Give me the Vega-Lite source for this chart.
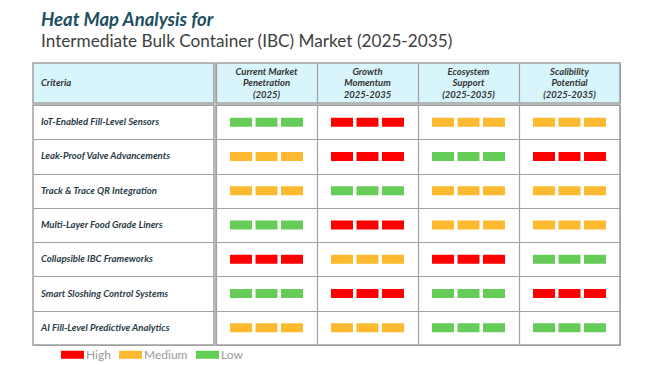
{
  "$schema": "https://vega.github.io/schema/vega-lite/v6.json",
  "background": "#ffffff",
  "padding": {"left": 32, "top": 10, "right": 0, "bottom": 0},
  "title": {
    "text": "Heat Map Analysis for",
    "subtitle": "Intermediate Bulk Container (IBC) Market (2025-2035)",
    "anchor": "start",
    "frame": "group",
    "dx": 8,
    "offset": 12,
    "font": "Lato",
    "fontSize": 18.5,
    "fontStyle": "italic",
    "fontWeight": "bold",
    "color": "#1d4f60",
    "subtitleFont": "Lato",
    "subtitleFontSize": 17.2,
    "subtitleColor": "#404040",
    "subtitlePadding": 4
  },
  "datasets": {
    "cells": [
      {"criteria": "IoT-Enabled Fill-Level Sensors", "metric": "Current Market Penetration (2025)", "level": "Low"},
      {"criteria": "IoT-Enabled Fill-Level Sensors", "metric": "Growth Momentum 2025-2035", "level": "High"},
      {"criteria": "IoT-Enabled Fill-Level Sensors", "metric": "Ecosystem Support (2025-2035)", "level": "Medium"},
      {"criteria": "IoT-Enabled Fill-Level Sensors", "metric": "Scalibility Potential (2025-2035)", "level": "Medium"},
      {"criteria": "Leak-Proof Valve Advancements", "metric": "Current Market Penetration (2025)", "level": "Medium"},
      {"criteria": "Leak-Proof Valve Advancements", "metric": "Growth Momentum 2025-2035", "level": "High"},
      {"criteria": "Leak-Proof Valve Advancements", "metric": "Ecosystem Support (2025-2035)", "level": "Low"},
      {"criteria": "Leak-Proof Valve Advancements", "metric": "Scalibility Potential (2025-2035)", "level": "High"},
      {"criteria": "Track & Trace QR Integration", "metric": "Current Market Penetration (2025)", "level": "Medium"},
      {"criteria": "Track & Trace QR Integration", "metric": "Growth Momentum 2025-2035", "level": "Low"},
      {"criteria": "Track & Trace QR Integration", "metric": "Ecosystem Support (2025-2035)", "level": "Medium"},
      {"criteria": "Track & Trace QR Integration", "metric": "Scalibility Potential (2025-2035)", "level": "Medium"},
      {"criteria": "Multi-Layer Food Grade Liners", "metric": "Current Market Penetration (2025)", "level": "Low"},
      {"criteria": "Multi-Layer Food Grade Liners", "metric": "Growth Momentum 2025-2035", "level": "High"},
      {"criteria": "Multi-Layer Food Grade Liners", "metric": "Ecosystem Support (2025-2035)", "level": "Medium"},
      {"criteria": "Multi-Layer Food Grade Liners", "metric": "Scalibility Potential (2025-2035)", "level": "Medium"},
      {"criteria": "Collapsible IBC Frameworks", "metric": "Current Market Penetration (2025)", "level": "High"},
      {"criteria": "Collapsible IBC Frameworks", "metric": "Growth Momentum 2025-2035", "level": "Medium"},
      {"criteria": "Collapsible IBC Frameworks", "metric": "Ecosystem Support (2025-2035)", "level": "High"},
      {"criteria": "Collapsible IBC Frameworks", "metric": "Scalibility Potential (2025-2035)", "level": "Low"},
      {"criteria": "Smart Sloshing Control Systems", "metric": "Current Market Penetration (2025)", "level": "Low"},
      {"criteria": "Smart Sloshing Control Systems", "metric": "Growth Momentum 2025-2035", "level": "High"},
      {"criteria": "Smart Sloshing Control Systems", "metric": "Ecosystem Support (2025-2035)", "level": "Low"},
      {"criteria": "Smart Sloshing Control Systems", "metric": "Scalibility Potential (2025-2035)", "level": "High"},
      {"criteria": "AI Fill-Level Predictive Analytics", "metric": "Current Market Penetration (2025)", "level": "Medium"},
      {"criteria": "AI Fill-Level Predictive Analytics", "metric": "Growth Momentum 2025-2035", "level": "Medium"},
      {"criteria": "AI Fill-Level Predictive Analytics", "metric": "Ecosystem Support (2025-2035)", "level": "Low"},
      {"criteria": "AI Fill-Level Predictive Analytics", "metric": "Scalibility Potential (2025-2035)", "level": "Low"}
    ],
    "headers": [
      {"metric": "Current Market Penetration (2025)", "label": "Current Market|Penetration|(2025)"},
      {"metric": "Growth Momentum 2025-2035", "label": "Growth|Momentum|2025-2035"},
      {"metric": "Ecosystem Support (2025-2035)", "label": "Ecosystem|Support|(2025-2035)"},
      {"metric": "Scalibility Potential (2025-2035)", "label": "Scalibility|Potential|(2025-2035)"}
    ],
    "rows": [
      {"criteria": "IoT-Enabled Fill-Level Sensors"},
      {"criteria": "Leak-Proof Valve Advancements"},
      {"criteria": "Track & Trace QR Integration"},
      {"criteria": "Multi-Layer Food Grade Liners"},
      {"criteria": "Collapsible IBC Frameworks"},
      {"criteria": "Smart Sloshing Control Systems"},
      {"criteria": "AI Fill-Level Predictive Analytics"}
    ],
    "corner": [{"h": "Criteria"}]
  },
  "vconcat": [
    {
      "hconcat": [
        {
          "width": 181,
          "height": 40,
          "data": {"name": "corner"},
          "view": {"fill": "#d9f5fc", "stroke": "#a0a0a0", "strokeWidth": 1.5},
          "mark": {"type": "text", "align": "left", "baseline": "middle", "dx": -82.5, "font": "Lato", "fontSize": 9.5, "fontStyle": "italic", "fontWeight": "bold", "color": "#333333"},
          "encoding": {"text": {"field": "h", "type": "nominal"}}
        },
        {
          "width": 404,
          "height": 40,
          "data": {"name": "headers"},
          "view": {"fill": "#d9f5fc", "stroke": "#a0a0a0", "strokeWidth": 1.5},
          "mark": {"type": "text", "align": "center", "baseline": "middle", "dy": -11.5, "lineBreak": "|", "lineHeight": 11.5, "font": "Lato", "fontSize": 9.5, "fontStyle": "italic", "fontWeight": "bold", "color": "#333333"},
          "encoding": {
            "x": {
              "field": "metric", "type": "nominal", "sort": null,
              "scale": {"type": "band", "paddingInner": 0, "paddingOuter": 0},
              "axis": {"title": null, "labels": false, "ticks": false, "domain": false, "grid": true, "tickBand": "extent", "gridColor": "#a0a0a0", "gridWidth": 1.2, "minExtent": 0, "maxExtent": 0}
            },
            "text": {"field": "label", "type": "nominal"}
          }
        }
      ],
      "spacing": 0
    },
    {
      "hconcat": [
        {
          "width": 181,
          "height": 240,
          "data": {"name": "rows"},
          "view": {"stroke": "#a0a0a0", "strokeWidth": 1.5},
          "mark": {"type": "text", "align": "left", "baseline": "middle", "dx": -82.5, "font": "Lato", "fontSize": 9.6, "fontStyle": "italic", "fontWeight": "bold", "color": "#2b3b46"},
          "encoding": {
            "y": {
              "field": "criteria", "type": "nominal", "sort": null,
              "scale": {"type": "band", "paddingInner": 0, "paddingOuter": 0},
              "axis": {"title": null, "labels": false, "ticks": false, "domain": false, "grid": true, "tickBand": "extent", "gridColor": "#a0a0a0", "gridWidth": 1.2, "minExtent": 0, "maxExtent": 0}
            },
            "text": {"field": "criteria", "type": "nominal"}
          }
        },
        {
          "width": 404,
          "height": 240,
          "data": {"name": "cells"},
          "view": {"stroke": "#a0a0a0", "strokeWidth": 1.5},
          "mark": {
            "type": "point",
            "shape": "M-1,-0.123H-0.397V0.123H-1Z M-0.301,-0.123H0.301V0.123H-0.301Z M0.397,-0.123H1V0.123H0.397Z",
            "size": 5329,
            "filled": true,
            "opacity": 1,
            "strokeWidth": 0
          },
          "encoding": {
            "x": {
              "field": "metric", "type": "nominal", "sort": null,
              "scale": {"type": "band", "paddingInner": 0, "paddingOuter": 0},
              "axis": {"title": null, "labels": false, "ticks": false, "domain": false, "grid": true, "tickBand": "extent", "gridColor": "#a0a0a0", "gridWidth": 1.2, "minExtent": 0, "maxExtent": 0}
            },
            "y": {
              "field": "criteria", "type": "nominal", "sort": null,
              "scale": {"type": "band", "paddingInner": 0, "paddingOuter": 0},
              "axis": {"title": null, "labels": false, "ticks": false, "domain": false, "grid": true, "tickBand": "extent", "gridColor": "#a0a0a0", "gridWidth": 1.2, "minExtent": 0, "maxExtent": 0}
            },
            "color": {
              "field": "level", "type": "nominal",
              "scale": {"domain": ["High", "Medium", "Low"], "range": ["#ff0000", "#fdb92f", "#66cc58"]},
              "legend": {
                "title": null,
                "orient": "none",
                "legendX": 28,
                "legendY": 280,
                "direction": "horizontal",
                "symbolType": "M-1,-0.35H1V0.35H-1Z",
                "symbolSize": 529,
                "symbolStrokeWidth": 0,
                "symbolOpacity": 1,
                "labelFont": "Lato",
                "labelFontSize": 12,
                "labelColor": "#999999",
                "labelOffset": 2,
                "columnPadding": 8
              }
            }
          }
        }
      ],
      "spacing": 0
    }
  ],
  "spacing": 0,
  "resolve": {"scale": {"x": "independent", "y": "independent"}}
}
